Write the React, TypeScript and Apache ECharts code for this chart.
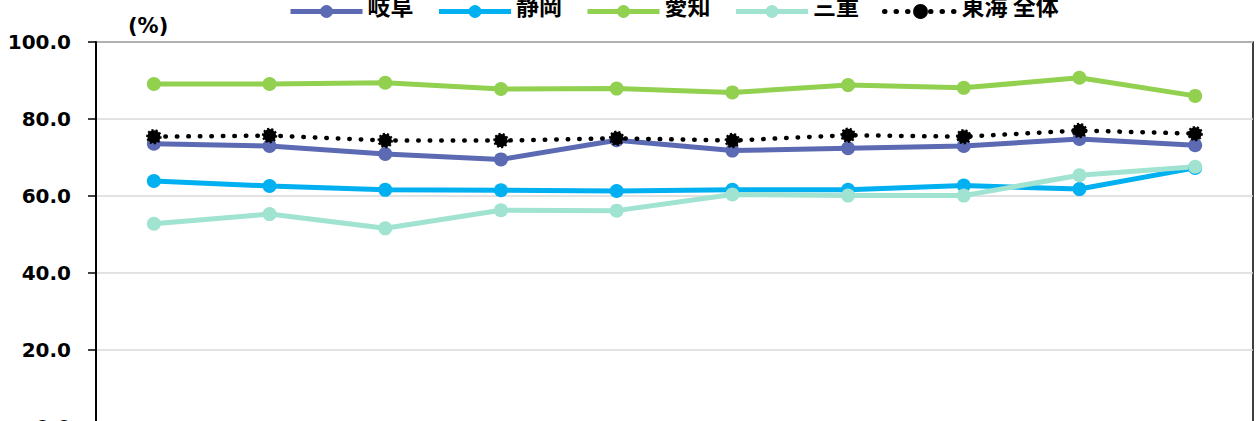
import React, { useEffect, useRef } from "react";
import * as echarts from "echarts";

const categories = ["1", "2", "3", "4", "5", "6", "7", "8", "9", "10"];
const gifu = [73.6, 73.0, 70.9, 69.5, 74.5, 71.8, 72.4, 73.0, 74.8, 73.2];
const shizuoka = [63.9, 62.6, 61.6, 61.5, 61.3, 61.6, 61.6, 62.7, 61.8, 67.3];
const aichi = [89.1, 89.1, 89.4, 87.8, 87.9, 86.9, 88.8, 88.1, 90.7, 86.0];
const mie = [52.8, 55.3, 51.6, 56.3, 56.2, 60.4, 60.1, 60.1, 65.4, 67.6];
const tokai = [75.4, 75.7, 74.4, 74.4, 75.0, 74.4, 75.8, 75.4, 77.0, 76.2];
const yTicks = [0, 20, 40, 60, 80, 100];

export default function App() {
  const ref = useRef<HTMLDivElement>(null);
  useEffect(() => {
    if (!ref.current) return;
    const chart = echarts.init(ref.current, undefined, { renderer: "svg" });
    const mk = (name: string, data: number[], color: string) => ({
      name,
      type: "line",
      data,
      symbol: "circle",
      symbolSize: 14,
      lineStyle: { color, width: 5 },
      itemStyle: { color },
      z: 3,
    });
    chart.setOption({
      animation: false,
      legend: {
        top: -12,
        left: 283,
        itemWidth: 72,
        itemHeight: 16,
        itemGap: 23,
        lineStyle: { width: 5 },
        formatter: "{n|{name}}",
        textStyle: {
          fontSize: 23,
          fontWeight: "bold",
          color: "#000",
          fontFamily: "Noto Sans CJK JP",
          rich: {
            n: {
              fontSize: 23,
              fontWeight: "bold",
              color: "#000",
              fontFamily: "Noto Sans CJK JP",
              padding: [0, 0, 14, 0],
            },
          },
        },
        data: ["岐阜", "静岡", "愛知", "三重", "東海 全体"],
      },
      grid: {
        left: 96,
        right: 4,
        top: 42,
        bottom: 53,
        show: true,
        borderColor: "#000",
        borderWidth: 1.5,
      },
      xAxis: {
        type: "category",
        data: categories,
        boundaryGap: true,
        axisLabel: { show: false },
        axisTick: { show: false },
        axisLine: { lineStyle: { color: "#000", width: 2 } },
      },
      yAxis: {
        type: "value",
        min: yTicks[0],
        max: yTicks[yTicks.length - 1],
        interval: 20,
        axisLine: { show: true, lineStyle: { color: "#000", width: 2 } },
        axisTick: { show: true, length: 8, lineStyle: { color: "#000", width: 1.5 } },
        axisLabel: {
          formatter: (v: number) => v.toFixed(1),
          fontSize: 20,
          fontWeight: "bold",
          color: "#000",
          fontFamily: "DejaVu Sans",
          margin: 25,
        },
        splitLine: { lineStyle: { color: "#D9D9D9", width: 1.5 } },
      },
      graphic: [
        {
          type: "text",
          left: 128,
          top: 15,
          style: {
            text: "(%)",
            fontSize: 21,
            fontWeight: "bold",
            fill: "#000",
            fontFamily: "DejaVu Sans",
          },
        },
      ],
      series: [
        mk("岐阜", gifu, "#5B6AB3"),
        mk("静岡", shizuoka, "#00B0F0"),
        mk("愛知", aichi, "#92D050"),
        mk("三重", mie, "#A0E3D0"),
        {
          name: "東海 全体",
          type: "line",
          data: tokai,
          symbol: "circle",
          symbolSize: 13,
          z: 4,
          lineStyle: { color: "#000", width: 4.5, type: [0.5, 11], cap: "round" },
          itemStyle: {
            color: "#000",
            borderColor: "#000",
            borderWidth: 2.5,
            borderType: [2, 2],
          },
        },
      ],
    });
    return () => chart.dispose();
  }, []);
  return (
    <div
      ref={ref}
      style={{ position: "absolute", left: 0, top: 0, width: 1257, height: 480, background: "#fff" }}
    />
  );
}
